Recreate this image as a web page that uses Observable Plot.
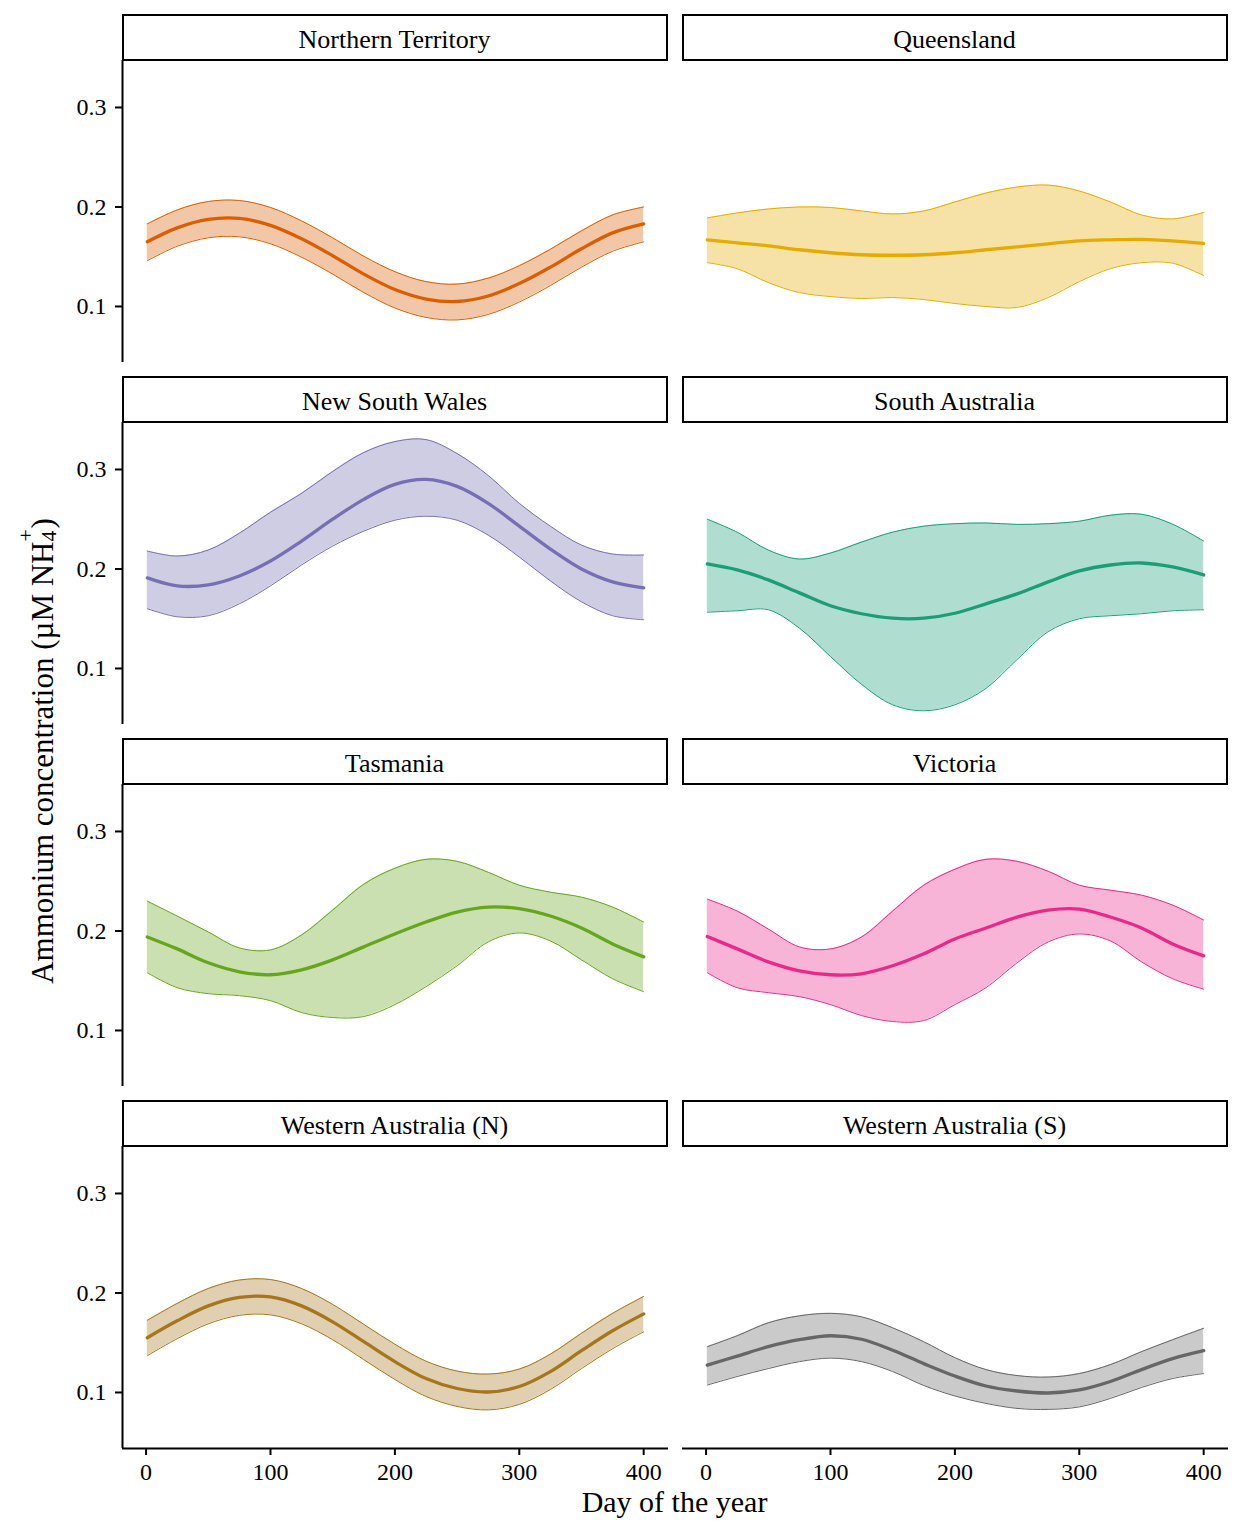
<!DOCTYPE html>
<html>
<head>
<meta charset="utf-8">
<script src="https://cdn.jsdelivr.net/npm/d3@7"></script>
<script src="https://cdn.jsdelivr.net/npm/@observablehq/plot@0.6"></script>
<style>
  html, body { margin: 0; padding: 0; background: #fff; }
  #wrap { position: relative; width: 1248px; height: 1536px; background: #fff;
          font-family: "Liberation Serif", "Times New Roman", serif; color: #000; }
  .panel { position: absolute; }
  .panel svg { overflow: visible; }
  .strip { position: absolute; box-sizing: border-box; border: 2.5px solid #000; background: #fff;
           display: flex; align-items: center; justify-content: center; padding-top: 4px;
           font-size: 26px; line-height: 26px; white-space: nowrap; }
  .ylab { position: absolute; left: 40px; top: 751px; transform: translate(-50%, -50%) rotate(-90deg);
          font-size: 31px; line-height: 31px; white-space: nowrap; }
  .xlab { position: absolute; left: 674.5px; top: 1491px; transform: translateX(-50%);
          font-size: 30px; line-height: 22px; white-space: nowrap; }
  .ss { position: relative; display: inline-block; width: 0.42em; height: 1em; vertical-align: baseline; }
  .ss .sup { position: absolute; left: 0; top: -0.5em; font-size: 0.7em; }
  .ss .sub { position: absolute; left: 0; top: 0.55em; font-size: 0.7em; }
</style>
</head>
<body>
<div id="wrap"></div>
<script>
// ---------- data ----------
const days = [1, 25, 50, 75, 100, 125, 150, 175, 200, 225, 250, 275, 300, 325, 350, 375, 400];

const regions = ["Northern Territory", "Queensland", "New South Wales", "South Australia",
                 "Tasmania", "Victoria", "Western Australia (N)", "Western Australia (S)"];
const colors = ["#D95F02", "#E6AB02", "#7570B3", "#1B9E77", "#66A61E", "#E7298A", "#A6761D", "#666666"];

const ntMean = [.165,.179,.1875,.1885,.1815,.168,.151,.1325,.117,.1075,.105,.1105,.123,.1395,.158,.174,.183];
const ntHigh = [.183,.197,.2055,.2065,.1995,.186,.169,.1505,.135,.125,.1225,.1285,.141,.1575,.176,.192,.200];
const ntLow  = [.146,.1605,.169,.170,.163,.1495,.1325,.114,.0985,.089,.0865,.092,.1045,.121,.1395,.1555,.165];

const qldMean = [.167,.164,.161,.157,.154,.152,.1515,.152,.154,.157,.160,.163,.166,.167,.1675,.166,.1635];
const qldHigh = [.189,.194,.198,.200,.1995,.196,.193,.196,.205,.214,.220,.222,.216,.205,.192,.188,.1945];
const qldLow  = [.144,.138,.124,.114,.110,.108,.109,.107,.103,.100,.099,.109,.125,.138,.144,.1435,.131];

const nswMean = [.191,.183,.184,.193,.208,.228,.250,.270,.285,.290,.283,.266,.243,.220,.200,.187,.181];
const nswHigh = [.218,.213,.219,.236,.257,.276,.298,.317,.328,.330,.316,.294,.266,.243,.224,.215,.214];
const nswLow  = [.160,.152,.153,.165,.183,.204,.223,.238,.249,.253,.249,.234,.212,.188,.167,.153,.149];

const saMean = [.205,.199,.189,.176,.163,.155,.1505,.1505,.1555,.165,.175,.187,.198,.204,.206,.202,.194];
const saHigh = [.250,.237,.219,.210,.216,.227,.237,.243,.2455,.2462,.2448,.2455,.248,.254,.255,.245,.228];
const saLow  = [.1565,.158,.159,.1405,.112,.084,.0635,.0575,.0635,.080,.109,.137,.150,.153,.155,.158,.159];

const tasMean = [.194,.182,.168,.159,.156,.161,.171,.184,.197,.209,.219,.224,.2225,.215,.203,.187,.174];
const tasHigh = [.230,.215,.199,.183,.181,.196,.221,.247,.263,.272,.270,.259,.246,.239,.234,.224,.209];
const tasLow  = [.158,.143,.137,.135,.130,.118,.113,.114,.126,.144,.165,.189,.198,.190,.171,.152,.139];

const vicMean = [.1945,.182,.169,.160,.156,.157,.165,.177,.192,.203,.214,.221,.222,.214,.203,.187,.175];
const vicHigh = [.232,.220,.202,.184,.182,.194,.220,.246,.262,.272,.270,.260,.246,.241,.236,.226,.211];
const vicLow  = [.158,.143,.138,.134,.126,.115,.109,.110,.126,.143,.168,.189,.197,.190,.169,.152,.1415];

const wanMean = [.155,.172,.187,.1955,.196,.187,.171,.151,.131,.114,.104,.1005,.106,.121,.142,.162,.179];
const wanHigh = [.1725,.1895,.2045,.213,.2135,.2045,.1885,.1685,.1485,.1315,.1215,.1185,.1235,.1385,.1595,.1795,.1965];
const wanLow  = [.137,.154,.169,.1775,.178,.169,.153,.133,.113,.096,.086,.0825,.088,.103,.124,.144,.161];

const wasMean = [.1275,.1365,.146,.153,.157,.1535,.1425,.129,.1165,.1065,.1015,.0995,.1025,.111,.123,.134,.142];
const wasHigh = [.146,.157,.170,.177,.1795,.176,.165,.151,.135,.123,.117,.1155,.119,.128,.141,.153,.1645];
const wasLow  = [.1075,.116,.124,.131,.1345,.131,.121,.107,.0965,.089,.084,.083,.0855,.094,.105,.114,.119];

const xTicks = [0, 100, 200, 300, 400];
const yTicks = [0.1, 0.2, 0.3];
const xDomain = [-18.95, 419.95];
const yDomain = [0.0437, 0.3472];

const series = [
  [ntMean, ntLow, ntHigh], [qldMean, qldLow, qldHigh],
  [nswMean, nswLow, nswHigh], [saMean, saLow, saHigh],
  [tasMean, tasLow, tasHigh], [vicMean, vicLow, vicHigh],
  [wanMean, wanLow, wanHigh], [wasMean, wasLow, wasHigh]
];

// ---------- layout ----------
const wrap = document.getElementById("wrap");
const colLeft = [122, 682];
const panelW = 546;
const panelH = 302;
const rowPitch = 362;
const firstPanelTop = 60;
const stripTop = 14;
const stripH = 47;
const yAxisMargin = 122;
const bottomMargin = 30;

regions.forEach((name, i) => {
  const col = i % 2, row = Math.floor(i / 2);
  const isLeft = col === 0, isBottom = row === 3;
  const [m, lo, hi] = series[i];
  const data = days.map((d, j) => ({day: d, mean: m[j], lo: lo[j], hi: hi[j]}));
  const color = colors[i];
  const curve = "catmull-rom";

  const chart = Plot.plot({
    width: panelW + (isLeft ? yAxisMargin : 0),
    height: panelH + (isBottom ? bottomMargin : 0),
    marginLeft: isLeft ? yAxisMargin : 0,
    marginRight: 0,
    marginTop: 0,
    marginBottom: isBottom ? bottomMargin : 0,
    x: {domain: xDomain, axis: null},
    y: {domain: yDomain, axis: null},
    style: {fontFamily: '"Liberation Serif", "Times New Roman", serif', fontSize: "24px",
            color: "#000", background: "transparent", overflow: "visible"},
    marks: [
      Plot.areaY(data, {x: "day", y1: "lo", y2: "hi", fill: color, fillOpacity: 0.35, curve}),
      Plot.line(data, {x: "day", y: "lo", stroke: color, strokeWidth: 1, curve}),
      Plot.line(data, {x: "day", y: "hi", stroke: color, strokeWidth: 1, curve}),
      Plot.line(data, {x: "day", y: "mean", stroke: color, strokeWidth: 3.3, curve}),
      isLeft ? Plot.ruleX([xDomain[0]], {stroke: "#000", strokeWidth: 2}) : null,
      isLeft ? Plot.axisY(yTicks, {tickSize: 7, tickPadding: 9, label: null, stroke: "#000",
                                   strokeWidth: 2, fontSize: 24, tickFormat: d3.format(".1f")}) : null,
      isBottom ? Plot.ruleY([yDomain[0]], {stroke: "#000", strokeWidth: 2}) : null,
      isBottom ? Plot.axisX(xTicks, {tickSize: 7, tickPadding: 7, label: null, stroke: "#000",
                                     strokeWidth: 2, fontSize: 24}) : null
    ]
  });

  const holder = document.createElement("div");
  holder.className = "panel";
  holder.style.left = (colLeft[col] - (isLeft ? yAxisMargin : 0)) + "px";
  holder.style.top = (firstPanelTop + row * rowPitch) + "px";
  holder.appendChild(chart);
  wrap.appendChild(holder);

  const strip = document.createElement("div");
  strip.className = "strip";
  strip.style.left = (colLeft[col] - 0.5) + "px";
  strip.style.top = (stripTop + row * rowPitch) + "px";
  strip.style.width = panelW + "px";
  strip.style.height = stripH + "px";
  strip.textContent = name;
  wrap.appendChild(strip);
});

const ylab = document.createElement("div");
ylab.className = "ylab";
ylab.innerHTML = 'Ammonium concentration (µM NH<span class="ss"><span class="sup">+</span><span class="sub">4</span></span>)';
wrap.appendChild(ylab);

const xlab = document.createElement("div");
xlab.className = "xlab";
xlab.textContent = "Day of the year";
wrap.appendChild(xlab);
</script>
</body>
</html>
